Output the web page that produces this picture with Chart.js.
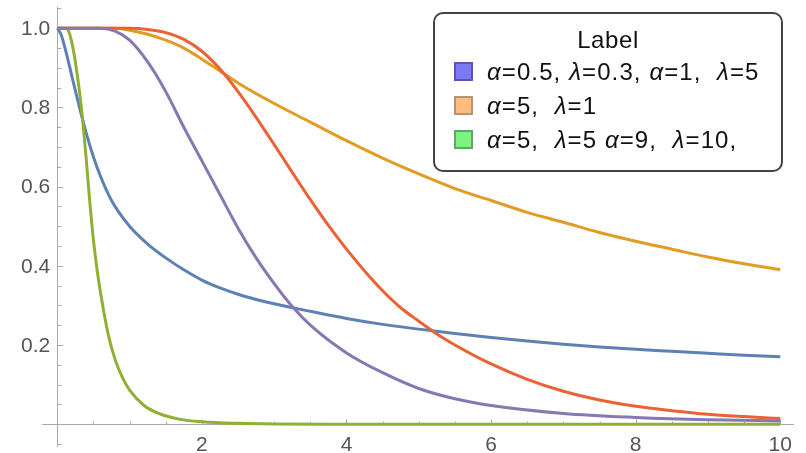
<!DOCTYPE html>
<html>
<head>
<meta charset="utf-8">
<script src="https://cdn.jsdelivr.net/npm/chart.js@4.4.0/dist/chart.umd.min.js"></script>
<style>
    body { margin: 0; background: #fff; }
    #wrap { position: relative; width: 806px; height: 453px; overflow: hidden; }
    #legend {
        position: absolute; left: 433px; top: 12px; width: 346px; height: 156px;
        border: 2px solid #444; border-radius: 10px; background: #fff;
        font-family: "Liberation Sans", Arial, sans-serif; color: #111;
        letter-spacing: 1.1px;
    }
    #legend .title { position: absolute; left: 0; right: 0; top: 13px; text-align: center; font-size: 24px; line-height: 26px; letter-spacing: 0.6px; }
    #legend .row { position: absolute; left: 19px; height: 26px; font-size: 24px; line-height: 26px; white-space: pre; }
    #legend .sw { display: inline-block; width: 15px; height: 15px; border: 2px solid; vertical-align: -1px; margin-right: 14px; }
    #legend i { font-style: italic; }
</style>
</head>
<body>
<div id="wrap">
    <canvas id="chart" width="806" height="453"></canvas>
    <div id="legend">
        <div class="title">Label</div>
        <div class="row" style="top:45px"><span class="sw" style="background:#7a7af5;border-color:#5858b0"></span><i>α</i>=0.5, <i>λ</i>=0.3, <i>α</i>=1,  <i>λ</i>=5</div>
        <div class="row" style="top:79px"><span class="sw" style="background:#ffbb80;border-color:#b89272"></span><i>α</i>=5,  <i>λ</i>=1</div>
        <div class="row" style="top:113px"><span class="sw" style="background:#80f080;border-color:#62a862"></span><i>α</i>=5,  <i>λ</i>=5 <i>α</i>=9,  <i>λ</i>=10,</div>
    </div>
</div>
<script>
// 曲线数据
const blueX = [0, 0.05, 0.1, 0.2, 0.3, 0.4, 0.5, 0.6, 0.75, 1, 1.25, 1.5, 1.75, 2, 2.25, 2.5, 2.75, 3, 3.5, 4, 4.5, 5, 5.5, 6, 6.5, 7, 7.5, 8, 8.5, 9, 9.5, 10];
const blueY = [1, 0.985, 0.955, 0.88, 0.805, 0.735, 0.675, 0.625, 0.565, 0.5, 0.455, 0.42, 0.39, 0.364, 0.344, 0.328, 0.315, 0.304, 0.285, 0.267, 0.252, 0.24, 0.229, 0.219, 0.21, 0.202, 0.195, 0.189, 0.184, 0.179, 0.174, 0.17];

const orangeX = [0, 0.8, 1, 1.25, 1.5, 1.75, 2, 2.25, 2.5, 3, 3.5, 4, 4.5, 5, 5.5, 6, 6.5, 7, 7.5, 8, 8.5, 9, 9.5, 10];
const orangeY = [1, 1, 0.995, 0.985, 0.97, 0.95, 0.922, 0.892, 0.862, 0.81, 0.763, 0.716, 0.672, 0.632, 0.595, 0.565, 0.535, 0.51, 0.484, 0.462, 0.442, 0.422, 0.405, 0.39];

const greenX = [0, 0.1, 0.15, 0.2, 0.25, 0.3, 0.35, 0.4, 0.45, 0.5, 0.55, 0.6, 0.7, 0.8, 0.9, 1, 1.2, 1.4, 1.7, 2, 2.5, 3, 4, 10];
const greenY = [1, 1, 0.995, 0.965, 0.915, 0.85, 0.77, 0.67, 0.56, 0.465, 0.39, 0.33, 0.23, 0.163, 0.118, 0.086, 0.047, 0.027, 0.012, 0.006, 0.002, 0.0005, 0, 0];

const redX = [0, 1, 1.25, 1.5, 1.75, 2, 2.25, 2.5, 2.75, 3, 3.25, 3.5, 3.75, 4, 4.25, 4.5, 4.75, 5, 5.25, 5.5, 6, 6.5, 7, 7.5, 8, 8.5, 9, 9.5, 10];
const redY = [1, 1, 0.997, 0.989, 0.972, 0.942, 0.897, 0.84, 0.775, 0.706, 0.636, 0.567, 0.502, 0.442, 0.387, 0.337, 0.294, 0.26, 0.228, 0.2, 0.152, 0.113, 0.083, 0.061, 0.045, 0.034, 0.025, 0.019, 0.014];

const purpleX = [0, 0.6, 0.8, 1, 1.25, 1.5, 1.75, 2, 2.25, 2.5, 2.75, 3, 3.25, 3.5, 4, 4.5, 5, 5.5, 6, 7, 8, 9, 10];
const purpleY = [1, 1, 0.993, 0.97, 0.915, 0.84, 0.75, 0.665, 0.58, 0.495, 0.42, 0.355, 0.297, 0.25, 0.18, 0.13, 0.09, 0.064, 0.047, 0.027, 0.017, 0.011, 0.008];

// 刻度
const xMajorTicks = [2, 4, 6, 8, 10];
const yMajorTicks = [0.2, 0.4, 0.6, 0.8, 1.0];
const yTickLabels = ['0.2', '0.4', '0.6', '0.8', '1.0'];

function toPoints(xs, ys) {
    return xs.map((x, i) => ({ x: x, y: ys[i] }));
}

function makeSet(xs, ys, color, order) {
    return {
        data: toPoints(xs, ys),
        borderColor: color,
        borderWidth: 3,
        pointRadius: 0,
        fill: false,
        cubicInterpolationMode: 'monotone',
        order: order
    };
}

const tickFont = { family: '"Liberation Sans", Arial, sans-serif', size: 21 };

// 刻度线（Mathematica 风格，朝内）和 y 轴标签
const tickMarks = {
    id: 'tickMarks',
    beforeDatasetsDraw(chart) {
        const { ctx, scales: { x, y } } = chart;
        const x0 = x.getPixelForValue(0);
        const y0 = y.getPixelForValue(0);
        ctx.save();
        ctx.strokeStyle = '#aaa';
        ctx.lineWidth = 1;
        ctx.beginPath();
        for (let i = 1; i <= 20; i++) {
            const v = i * 0.5;
            const px = Math.round(x.getPixelForValue(v)) + 0.5;
            const len = xMajorTicks.includes(v) ? 4.5 : 2.5;
            ctx.moveTo(px, y0);
            ctx.lineTo(px, y0 - len);
        }
        for (let i = -1; i <= 21; i++) {
            if (i === 0) continue;
            const v = i * 0.05;
            const py = Math.round(y.getPixelForValue(v)) + 0.5;
            const len = (i % 4 === 0) ? 6 : 4;
            ctx.moveTo(x0, py);
            ctx.lineTo(x0 + len, py);
        }
        ctx.stroke();

        ctx.fillStyle = '#555';
        ctx.font = tickFont.size + 'px ' + tickFont.family;
        ctx.textAlign = 'right';
        ctx.textBaseline = 'middle';
        yMajorTicks.forEach((v, i) => {
            ctx.fillText(yTickLabels[i], x0 - 7, y.getPixelForValue(v) + 1);
        });
        ctx.restore();
    }
};

new Chart(document.getElementById('chart'), {
    type: 'line',
    data: {
        datasets: [
            makeSet(blueX, blueY, '#5e81b5', 4),
            makeSet(orangeX, orangeY, '#e19c24', 3),
            makeSet(greenX, greenY, '#8fb032', 2),
            makeSet(redX, redY, '#eb6235', 1),
            makeSet(purpleX, purpleY, '#8778b3', 0)
        ]
    },
    options: {
        responsive: false,
        animation: false,
        events: [],
        layout: { padding: { left: 42.3, right: 12.7, top: 7.3, bottom: 6.3 } },
        plugins: { legend: { display: false }, tooltip: { enabled: false } },
        scales: {
            x: {
                type: 'linear',
                position: { y: 0 },
                min: -0.2075,
                max: 10.18,
                grid: { display: true, drawOnChartArea: false, drawTicks: false },
                border: { color: '#aaa', width: 1 },
                afterFit(scale) { scale.paddingLeft = 0; scale.paddingRight = 0; },
                ticks: {
                    stepSize: 2,
                    includeBounds: false,
                    autoSkip: false,
                    maxRotation: 0,
                    padding: 8,
                    color: '#555',
                    font: tickFont,
                    callback: (v) => xMajorTicks.includes(v) ? String(v) : ''
                }
            },
            y: {
                type: 'linear',
                position: { x: 0 },
                min: -0.057,
                max: 1.053,
                grid: { display: true, drawOnChartArea: false, drawTicks: false },
                border: { color: '#aaa', width: 1 },
                afterFit(scale) { scale.paddingTop = 0; scale.paddingBottom = 0; },
                ticks: { display: false, stepSize: 0.2 }
            }
        }
    },
    plugins: [tickMarks]
});
</script>
</body>
</html>
